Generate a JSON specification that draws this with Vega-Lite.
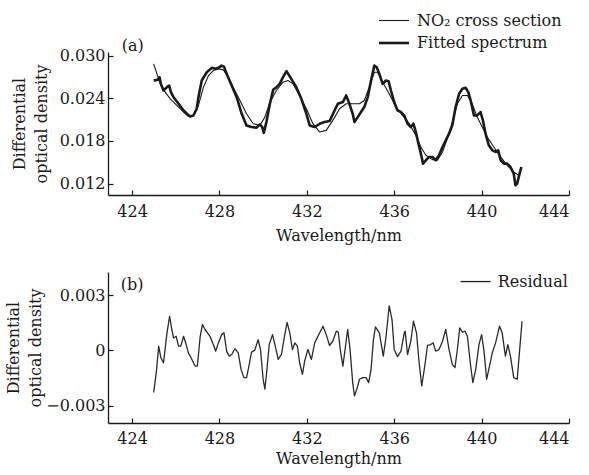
{
  "$schema": "https://vega.github.io/schema/vega-lite/v6.json",
  "padding": {"left": 5, "top": 12, "right": 5, "bottom": 4},
  "spacing": 29,
  "config": {
    "font": "DejaVu Serif",
    "view": {"stroke": null},
    "axis": {
      "labelFont": "DejaVu Serif", "titleFont": "DejaVu Serif",
      "labelFontSize": 16, "titleFontSize": 16, "titleFontWeight": "normal",
      "labelColor": "#1a1a1a", "titleColor": "#1a1a1a",
      "domainColor": "#1a1a1a", "tickColor": "#1a1a1a",
      "grid": false, "tickSize": -5, "domainWidth": 1.3, "tickWidth": 1.2
    },
    "axisX": {"labelPadding": 13, "titlePadding": 8},
    "axisY": {"labelPadding": 8, "titleLineHeight": 22},
    "legend": {
      "labelFont": "DejaVu Serif", "labelFontSize": 16, "labelColor": "#1a1a1a",
      "symbolStrokeColor": "#1a1a1a", "padding": 0
    }
  },
  "datasets": {
    "spectra": [
      {"wl": 424.99, "od": 0.02883, "series": "NO₂ cross section"},
      {"wl": 425.14, "od": 0.02743, "series": "NO₂ cross section"},
      {"wl": 425.29, "od": 0.02602, "series": "NO₂ cross section"},
      {"wl": 425.52, "od": 0.02486, "series": "NO₂ cross section"},
      {"wl": 425.75, "od": 0.02392, "series": "NO₂ cross section"},
      {"wl": 426.05, "od": 0.02299, "series": "NO₂ cross section"},
      {"wl": 426.36, "od": 0.02205, "series": "NO₂ cross section"},
      {"wl": 426.58, "od": 0.02144, "series": "NO₂ cross section"},
      {"wl": 426.81, "od": 0.02158, "series": "NO₂ cross section"},
      {"wl": 427.04, "od": 0.02299, "series": "NO₂ cross section"},
      {"wl": 427.27, "od": 0.02556, "series": "NO₂ cross section"},
      {"wl": 427.50, "od": 0.02719, "series": "NO₂ cross section"},
      {"wl": 427.72, "od": 0.02789, "series": "NO₂ cross section"},
      {"wl": 427.95, "od": 0.02813, "series": "NO₂ cross section"},
      {"wl": 428.18, "od": 0.02799, "series": "NO₂ cross section"},
      {"wl": 428.41, "od": 0.02696, "series": "NO₂ cross section"},
      {"wl": 428.63, "od": 0.02556, "series": "NO₂ cross section"},
      {"wl": 428.94, "od": 0.02369, "series": "NO₂ cross section"},
      {"wl": 429.24, "od": 0.02182, "series": "NO₂ cross section"},
      {"wl": 429.55, "od": 0.02042, "series": "NO₂ cross section"},
      {"wl": 429.85, "od": 0.02018, "series": "NO₂ cross section"},
      {"wl": 430.08, "od": 0.02135, "series": "NO₂ cross section"},
      {"wl": 430.31, "od": 0.02345, "series": "NO₂ cross section"},
      {"wl": 430.61, "od": 0.02509, "series": "NO₂ cross section"},
      {"wl": 430.91, "od": 0.02626, "series": "NO₂ cross section"},
      {"wl": 431.14, "od": 0.02649, "series": "NO₂ cross section"},
      {"wl": 431.37, "od": 0.02602, "series": "NO₂ cross section"},
      {"wl": 431.67, "od": 0.02439, "series": "NO₂ cross section"},
      {"wl": 431.98, "od": 0.02252, "series": "NO₂ cross section"},
      {"wl": 432.28, "od": 0.02042, "series": "NO₂ cross section"},
      {"wl": 432.59, "od": 0.01925, "series": "NO₂ cross section"},
      {"wl": 432.89, "od": 0.01948, "series": "NO₂ cross section"},
      {"wl": 433.19, "od": 0.02089, "series": "NO₂ cross section"},
      {"wl": 433.50, "od": 0.02252, "series": "NO₂ cross section"},
      {"wl": 433.80, "od": 0.02322, "series": "NO₂ cross section"},
      {"wl": 434.10, "od": 0.02322, "series": "NO₂ cross section"},
      {"wl": 434.41, "od": 0.02322, "series": "NO₂ cross section"},
      {"wl": 434.63, "od": 0.02369, "series": "NO₂ cross section"},
      {"wl": 434.86, "od": 0.02556, "series": "NO₂ cross section"},
      {"wl": 435.09, "od": 0.02766, "series": "NO₂ cross section"},
      {"wl": 435.24, "od": 0.02766, "series": "NO₂ cross section"},
      {"wl": 435.47, "od": 0.02626, "series": "NO₂ cross section"},
      {"wl": 435.77, "od": 0.02463, "series": "NO₂ cross section"},
      {"wl": 436.08, "od": 0.02276, "series": "NO₂ cross section"},
      {"wl": 436.38, "od": 0.02159, "series": "NO₂ cross section"},
      {"wl": 436.69, "od": 0.02042, "series": "NO₂ cross section"},
      {"wl": 436.99, "od": 0.01878, "series": "NO₂ cross section"},
      {"wl": 437.22, "od": 0.01715, "series": "NO₂ cross section"},
      {"wl": 437.45, "od": 0.01598, "series": "NO₂ cross section"},
      {"wl": 437.75, "od": 0.01537, "series": "NO₂ cross section"},
      {"wl": 437.98, "od": 0.01528, "series": "NO₂ cross section"},
      {"wl": 438.21, "od": 0.01645, "series": "NO₂ cross section"},
      {"wl": 438.43, "od": 0.01832, "series": "NO₂ cross section"},
      {"wl": 438.66, "od": 0.02065, "series": "NO₂ cross section"},
      {"wl": 438.89, "od": 0.02322, "series": "NO₂ cross section"},
      {"wl": 439.12, "od": 0.02439, "series": "NO₂ cross section"},
      {"wl": 439.35, "od": 0.02439, "series": "NO₂ cross section"},
      {"wl": 439.57, "od": 0.02322, "series": "NO₂ cross section"},
      {"wl": 439.80, "od": 0.02135, "series": "NO₂ cross section"},
      {"wl": 440.03, "od": 0.01995, "series": "NO₂ cross section"},
      {"wl": 440.26, "od": 0.01855, "series": "NO₂ cross section"},
      {"wl": 440.56, "od": 0.01715, "series": "NO₂ cross section"},
      {"wl": 440.87, "od": 0.01575, "series": "NO₂ cross section"},
      {"wl": 441.17, "od": 0.01458, "series": "NO₂ cross section"},
      {"wl": 441.47, "od": 0.01364, "series": "NO₂ cross section"},
      {"wl": 441.70, "od": 0.01317, "series": "NO₂ cross section"},

      {"wl": 424.99, "od": 0.02649, "series": "Fitted spectrum"},
      {"wl": 425.17, "od": 0.02658, "series": "Fitted spectrum"},
      {"wl": 425.26, "od": 0.02696, "series": "Fitted spectrum"},
      {"wl": 425.32, "od": 0.02602, "series": "Fitted spectrum"},
      {"wl": 425.44, "od": 0.02509, "series": "Fitted spectrum"},
      {"wl": 425.60, "od": 0.02556, "series": "Fitted spectrum"},
      {"wl": 425.70, "od": 0.02579, "series": "Fitted spectrum"},
      {"wl": 425.78, "od": 0.02486, "series": "Fitted spectrum"},
      {"wl": 425.90, "od": 0.02415, "series": "Fitted spectrum"},
      {"wl": 426.13, "od": 0.02322, "series": "Fitted spectrum"},
      {"wl": 426.36, "od": 0.02228, "series": "Fitted spectrum"},
      {"wl": 426.51, "od": 0.02182, "series": "Fitted spectrum"},
      {"wl": 426.66, "od": 0.02144, "series": "Fitted spectrum"},
      {"wl": 426.81, "od": 0.02158, "series": "Fitted spectrum"},
      {"wl": 426.96, "od": 0.02252, "series": "Fitted spectrum"},
      {"wl": 427.04, "od": 0.02415, "series": "Fitted spectrum"},
      {"wl": 427.19, "od": 0.02649, "series": "Fitted spectrum"},
      {"wl": 427.42, "od": 0.02766, "series": "Fitted spectrum"},
      {"wl": 427.65, "od": 0.02827, "series": "Fitted spectrum"},
      {"wl": 427.80, "od": 0.02813, "series": "Fitted spectrum"},
      {"wl": 427.95, "od": 0.02827, "series": "Fitted spectrum"},
      {"wl": 428.10, "od": 0.02859, "series": "Fitted spectrum"},
      {"wl": 428.21, "od": 0.02845, "series": "Fitted spectrum"},
      {"wl": 428.33, "od": 0.02743, "series": "Fitted spectrum"},
      {"wl": 428.56, "od": 0.02579, "series": "Fitted spectrum"},
      {"wl": 428.79, "od": 0.02415, "series": "Fitted spectrum"},
      {"wl": 429.02, "od": 0.02182, "series": "Fitted spectrum"},
      {"wl": 429.24, "od": 0.02018, "series": "Fitted spectrum"},
      {"wl": 429.47, "od": 0.01995, "series": "Fitted spectrum"},
      {"wl": 429.70, "od": 0.01986, "series": "Fitted spectrum"},
      {"wl": 429.85, "od": 0.02032, "series": "Fitted spectrum"},
      {"wl": 429.96, "od": 0.01995, "series": "Fitted spectrum"},
      {"wl": 430.03, "od": 0.01911, "series": "Fitted spectrum"},
      {"wl": 430.15, "od": 0.02065, "series": "Fitted spectrum"},
      {"wl": 430.31, "od": 0.02322, "series": "Fitted spectrum"},
      {"wl": 430.46, "od": 0.02518, "series": "Fitted spectrum"},
      {"wl": 430.61, "od": 0.02556, "series": "Fitted spectrum"},
      {"wl": 430.76, "od": 0.02602, "series": "Fitted spectrum"},
      {"wl": 430.91, "od": 0.02696, "series": "Fitted spectrum"},
      {"wl": 431.07, "od": 0.02780, "series": "Fitted spectrum"},
      {"wl": 431.29, "od": 0.02672, "series": "Fitted spectrum"},
      {"wl": 431.52, "od": 0.02556, "series": "Fitted spectrum"},
      {"wl": 431.75, "od": 0.02392, "series": "Fitted spectrum"},
      {"wl": 431.98, "od": 0.02182, "series": "Fitted spectrum"},
      {"wl": 432.13, "od": 0.02018, "series": "Fitted spectrum"},
      {"wl": 432.36, "od": 0.01995, "series": "Fitted spectrum"},
      {"wl": 432.59, "od": 0.02042, "series": "Fitted spectrum"},
      {"wl": 432.81, "od": 0.02065, "series": "Fitted spectrum"},
      {"wl": 433.04, "od": 0.02079, "series": "Fitted spectrum"},
      {"wl": 433.27, "od": 0.02228, "series": "Fitted spectrum"},
      {"wl": 433.42, "od": 0.02322, "series": "Fitted spectrum"},
      {"wl": 433.65, "od": 0.02346, "series": "Fitted spectrum"},
      {"wl": 433.80, "od": 0.02439, "series": "Fitted spectrum"},
      {"wl": 433.95, "od": 0.02322, "series": "Fitted spectrum"},
      {"wl": 434.10, "od": 0.02182, "series": "Fitted spectrum"},
      {"wl": 434.18, "od": 0.02065, "series": "Fitted spectrum"},
      {"wl": 434.33, "od": 0.02135, "series": "Fitted spectrum"},
      {"wl": 434.48, "od": 0.02206, "series": "Fitted spectrum"},
      {"wl": 434.63, "od": 0.02276, "series": "Fitted spectrum"},
      {"wl": 434.79, "od": 0.02416, "series": "Fitted spectrum"},
      {"wl": 434.94, "od": 0.02649, "series": "Fitted spectrum"},
      {"wl": 435.09, "od": 0.02860, "series": "Fitted spectrum"},
      {"wl": 435.20, "od": 0.02836, "series": "Fitted spectrum"},
      {"wl": 435.32, "od": 0.02743, "series": "Fitted spectrum"},
      {"wl": 435.47, "od": 0.02603, "series": "Fitted spectrum"},
      {"wl": 435.62, "od": 0.02649, "series": "Fitted spectrum"},
      {"wl": 435.74, "od": 0.02640, "series": "Fitted spectrum"},
      {"wl": 435.85, "od": 0.02509, "series": "Fitted spectrum"},
      {"wl": 436.00, "od": 0.02346, "series": "Fitted spectrum"},
      {"wl": 436.15, "od": 0.02229, "series": "Fitted spectrum"},
      {"wl": 436.31, "od": 0.02206, "series": "Fitted spectrum"},
      {"wl": 436.46, "od": 0.02159, "series": "Fitted spectrum"},
      {"wl": 436.61, "od": 0.02042, "series": "Fitted spectrum"},
      {"wl": 436.76, "od": 0.01995, "series": "Fitted spectrum"},
      {"wl": 436.88, "od": 0.02042, "series": "Fitted spectrum"},
      {"wl": 436.99, "od": 0.01925, "series": "Fitted spectrum"},
      {"wl": 437.11, "od": 0.01762, "series": "Fitted spectrum"},
      {"wl": 437.22, "od": 0.01621, "series": "Fitted spectrum"},
      {"wl": 437.32, "od": 0.01481, "series": "Fitted spectrum"},
      {"wl": 437.45, "od": 0.01528, "series": "Fitted spectrum"},
      {"wl": 437.60, "od": 0.01575, "series": "Fitted spectrum"},
      {"wl": 437.75, "od": 0.01575, "series": "Fitted spectrum"},
      {"wl": 437.90, "od": 0.01528, "series": "Fitted spectrum"},
      {"wl": 438.05, "od": 0.01598, "series": "Fitted spectrum"},
      {"wl": 438.21, "od": 0.01715, "series": "Fitted spectrum"},
      {"wl": 438.36, "od": 0.01808, "series": "Fitted spectrum"},
      {"wl": 438.51, "od": 0.01902, "series": "Fitted spectrum"},
      {"wl": 438.66, "od": 0.02019, "series": "Fitted spectrum"},
      {"wl": 438.81, "od": 0.02276, "series": "Fitted spectrum"},
      {"wl": 438.97, "od": 0.02463, "series": "Fitted spectrum"},
      {"wl": 439.12, "od": 0.02533, "series": "Fitted spectrum"},
      {"wl": 439.27, "od": 0.02547, "series": "Fitted spectrum"},
      {"wl": 439.39, "od": 0.02486, "series": "Fitted spectrum"},
      {"wl": 439.50, "od": 0.02369, "series": "Fitted spectrum"},
      {"wl": 439.65, "od": 0.02159, "series": "Fitted spectrum"},
      {"wl": 439.80, "od": 0.02159, "series": "Fitted spectrum"},
      {"wl": 439.95, "od": 0.02206, "series": "Fitted spectrum"},
      {"wl": 440.06, "od": 0.02089, "series": "Fitted spectrum"},
      {"wl": 440.18, "od": 0.01902, "series": "Fitted spectrum"},
      {"wl": 440.33, "od": 0.01738, "series": "Fitted spectrum"},
      {"wl": 440.49, "od": 0.01668, "series": "Fitted spectrum"},
      {"wl": 440.64, "od": 0.01645, "series": "Fitted spectrum"},
      {"wl": 440.76, "od": 0.01668, "series": "Fitted spectrum"},
      {"wl": 440.87, "od": 0.01528, "series": "Fitted spectrum"},
      {"wl": 441.02, "od": 0.01481, "series": "Fitted spectrum"},
      {"wl": 441.17, "od": 0.01481, "series": "Fitted spectrum"},
      {"wl": 441.32, "od": 0.01434, "series": "Fitted spectrum"},
      {"wl": 441.47, "od": 0.01341, "series": "Fitted spectrum"},
      {"wl": 441.55, "od": 0.01177, "series": "Fitted spectrum"},
      {"wl": 441.63, "od": 0.01201, "series": "Fitted spectrum"},
      {"wl": 441.70, "od": 0.01294, "series": "Fitted spectrum"},
      {"wl": 441.82, "od": 0.01434, "series": "Fitted spectrum"}
    ],
    "residual": [
      {"wl": 424.99, "res": -0.00229}, {"wl": 425.11, "res": -0.00121}, {"wl": 425.22, "res": 0.00023},
      {"wl": 425.32, "res": -0.00040}, {"wl": 425.44, "res": -0.00067}, {"wl": 425.60, "res": 0.00096},
      {"wl": 425.72, "res": 0.00186}, {"wl": 425.82, "res": 0.00114}, {"wl": 425.90, "res": 0.00068},
      {"wl": 426.02, "res": 0.00077}, {"wl": 426.13, "res": 0.00023}, {"wl": 426.23, "res": 0.00023},
      {"wl": 426.36, "res": 0.00077}, {"wl": 426.48, "res": 0.00032}, {"wl": 426.58, "res": -0.00013},
      {"wl": 426.74, "res": -0.00049}, {"wl": 426.89, "res": -0.00085}, {"wl": 426.99, "res": -0.00085},
      {"wl": 427.12, "res": 0.00077}, {"wl": 427.22, "res": 0.00141}, {"wl": 427.34, "res": 0.00114},
      {"wl": 427.57, "res": 0.00077}, {"wl": 427.72, "res": 0.00032}, {"wl": 427.83, "res": -0.00004},
      {"wl": 427.95, "res": 0.00041}, {"wl": 428.10, "res": 0.00086}, {"wl": 428.21, "res": 0.00096},
      {"wl": 428.33, "res": -0.00004}, {"wl": 428.45, "res": -0.00031}, {"wl": 428.56, "res": -0.00022},
      {"wl": 428.71, "res": 0.00009}, {"wl": 428.86, "res": -0.00013}, {"wl": 428.99, "res": -0.00103},
      {"wl": 429.12, "res": -0.00148}, {"wl": 429.24, "res": -0.00148}, {"wl": 429.35, "res": -0.00085},
      {"wl": 429.47, "res": -0.00009}, {"wl": 429.62, "res": 0.00002}, {"wl": 429.77, "res": 0.00059},
      {"wl": 429.88, "res": 0.00005}, {"wl": 430.00, "res": -0.00157}, {"wl": 430.08, "res": -0.00211},
      {"wl": 430.16, "res": -0.00121}, {"wl": 430.28, "res": 0.00032}, {"wl": 430.43, "res": 0.00086},
      {"wl": 430.54, "res": 0.00032}, {"wl": 430.69, "res": -0.00049}, {"wl": 430.84, "res": -0.00022},
      {"wl": 430.99, "res": 0.00086}, {"wl": 431.10, "res": 0.00153}, {"wl": 431.22, "res": 0.00096},
      {"wl": 431.34, "res": 0.00005}, {"wl": 431.45, "res": 0.00041}, {"wl": 431.57, "res": 0.00023},
      {"wl": 431.67, "res": -0.00067}, {"wl": 431.80, "res": -0.00130}, {"wl": 431.90, "res": -0.00058},
      {"wl": 432.05, "res": 0.00005}, {"wl": 432.21, "res": -0.00049}, {"wl": 432.36, "res": 0.00041},
      {"wl": 432.51, "res": 0.00077}, {"wl": 432.74, "res": 0.00132}, {"wl": 432.89, "res": 0.00086},
      {"wl": 433.04, "res": 0.00027}, {"wl": 433.19, "res": 0.00050}, {"wl": 433.35, "res": 0.00105},
      {"wl": 433.44, "res": 0.00099}, {"wl": 433.53, "res": 0.00005}, {"wl": 433.65, "res": -0.00085},
      {"wl": 433.77, "res": 0.00023}, {"wl": 433.87, "res": 0.00114}, {"wl": 433.98, "res": 0.00005},
      {"wl": 434.10, "res": -0.00175}, {"wl": 434.18, "res": -0.00247}, {"wl": 434.29, "res": -0.00211},
      {"wl": 434.41, "res": -0.00157}, {"wl": 434.56, "res": -0.00148}, {"wl": 434.71, "res": -0.00148},
      {"wl": 434.83, "res": -0.00175}, {"wl": 434.94, "res": -0.00103}, {"wl": 435.05, "res": 0.00059},
      {"wl": 435.14, "res": 0.00128}, {"wl": 435.32, "res": 0.00096}, {"wl": 435.50, "res": -0.00031},
      {"wl": 435.62, "res": 0.00068}, {"wl": 435.77, "res": 0.00243}, {"wl": 435.90, "res": 0.00168},
      {"wl": 436.00, "res": 0.00005}, {"wl": 436.15, "res": -0.00034}, {"wl": 436.31, "res": -0.00004},
      {"wl": 436.46, "res": 0.00096}, {"wl": 436.50, "res": 0.00105}, {"wl": 436.61, "res": -0.00022},
      {"wl": 436.76, "res": 0.00050}, {"wl": 436.88, "res": 0.00159}, {"wl": 437.02, "res": 0.00096},
      {"wl": 437.14, "res": -0.00067}, {"wl": 437.26, "res": -0.00193}, {"wl": 437.42, "res": -0.00067},
      {"wl": 437.52, "res": 0.00027}, {"wl": 437.67, "res": 0.00032}, {"wl": 437.78, "res": 0.00041},
      {"wl": 437.90, "res": -0.00004}, {"wl": 438.05, "res": 0.00005}, {"wl": 438.21, "res": 0.00050},
      {"wl": 438.36, "res": 0.00114}, {"wl": 438.51, "res": 0.00005}, {"wl": 438.66, "res": -0.00076},
      {"wl": 438.78, "res": -0.00094}, {"wl": 438.89, "res": 0.00005}, {"wl": 439.00, "res": 0.00123},
      {"wl": 439.12, "res": 0.00099}, {"wl": 439.24, "res": 0.00105}, {"wl": 439.35, "res": 0.00077},
      {"wl": 439.50, "res": -0.00085}, {"wl": 439.60, "res": -0.00175}, {"wl": 439.73, "res": -0.00103},
      {"wl": 439.88, "res": 0.00032}, {"wl": 440.00, "res": 0.00086}, {"wl": 440.11, "res": -0.00004},
      {"wl": 440.23, "res": -0.00157}, {"wl": 440.36, "res": -0.00085}, {"wl": 440.49, "res": -0.00013},
      {"wl": 440.64, "res": 0.00041}, {"wl": 440.82, "res": 0.00132}, {"wl": 440.94, "res": 0.00096},
      {"wl": 441.09, "res": -0.00031}, {"wl": 441.20, "res": 0.00032}, {"wl": 441.32, "res": -0.00031},
      {"wl": 441.47, "res": -0.00148}, {"wl": 441.63, "res": -0.00157}, {"wl": 441.73, "res": -0.00013},
      {"wl": 441.85, "res": 0.00159}
    ]
  },
  "vconcat": [
    {
      "width": 461,
      "height": 143,
      "layer": [
        {
          "data": {"name": "spectra"},
          "mark": {"type": "line", "color": "#1a1a1a", "strokeJoin": "round"},
          "encoding": {
            "x": {
              "field": "wl", "type": "quantitative",
              "scale": {"domain": [422.9, 444], "nice": false, "zero": false},
              "axis": {"values": [424, 428, 432, 436, 440, 444], "title": "Wavelength/nm"}
            },
            "y": {
              "field": "od", "type": "quantitative",
              "scale": {"domain": [0.0104, 0.0305], "nice": false, "zero": false},
              "axis": {"values": [0.012, 0.018, 0.024, 0.030], "format": ".3f", "title": ["Differential", "optical density"], "titlePadding": 10}
            },
            "strokeWidth": {
              "field": "series", "type": "nominal",
              "scale": {"domain": ["NO₂ cross section", "Fitted spectrum"], "range": [1.1, 2.6]},
              "legend": {"title": null, "orient": "none", "legendX": 277, "legendY": -40, "symbolType": "M-2,0H2", "symbolSize": 225, "labelOffset": 14, "rowPadding": 5}
            }
          }
        },
        {
          "data": {"values": [{}]},
          "mark": {"type": "text", "text": "(a)", "fontSize": 16, "font": "DejaVu Serif", "color": "#1a1a1a"},
          "encoding": {
            "x": {"datum": 424.03, "type": "quantitative"},
            "y": {"datum": 0.0314, "type": "quantitative"}
          }
        }
      ]
    },
    {
      "width": 461,
      "height": 151,
      "layer": [
        {
          "data": {"name": "residual"},
          "mark": {"type": "line", "color": "#2a2a2a", "strokeWidth": 1.3, "strokeJoin": "round"},
          "encoding": {
            "x": {
              "field": "wl", "type": "quantitative",
              "scale": {"domain": [422.9, 444], "nice": false, "zero": false},
              "axis": {"values": [424, 428, 432, 436, 440, 444], "title": "Wavelength/nm", "labelPadding": 12, "titlePadding": 4}
            },
            "y": {
              "field": "res", "type": "quantitative",
              "scale": {"domain": [-0.00395, 0.00427], "nice": false, "zero": false},
              "axis": {"values": [-0.003, 0, 0.003], "labelExpr": "datum.value == 0 ? '0' : format(datum.value, '.3f')", "title": ["Differential", "optical density"], "titlePadding": 2}
            }
          }
        },
        {
          "data": {"values": [{}]},
          "mark": {"type": "rule", "color": "#1a1a1a", "strokeWidth": 1.3},
          "encoding": {
            "x": {"datum": 439.04, "type": "quantitative"},
            "x2": {"datum": 440.41},
            "y": {"datum": 0.00375, "type": "quantitative"}
          }
        },
        {
          "data": {"values": [{}]},
          "mark": {"type": "text", "text": "Residual", "align": "left", "baseline": "middle", "fontSize": 16, "font": "DejaVu Serif", "color": "#1a1a1a"},
          "encoding": {
            "x": {"datum": 440.74, "type": "quantitative"},
            "y": {"datum": 0.00375, "type": "quantitative"}
          }
        },
        {
          "data": {"values": [{}]},
          "mark": {"type": "text", "text": "(b)", "fontSize": 16, "font": "DejaVu Serif", "color": "#1a1a1a"},
          "encoding": {
            "x": {"datum": 424.0, "type": "quantitative"},
            "y": {"datum": 0.00357, "type": "quantitative"}
          }
        }
      ]
    }
  ]
}
